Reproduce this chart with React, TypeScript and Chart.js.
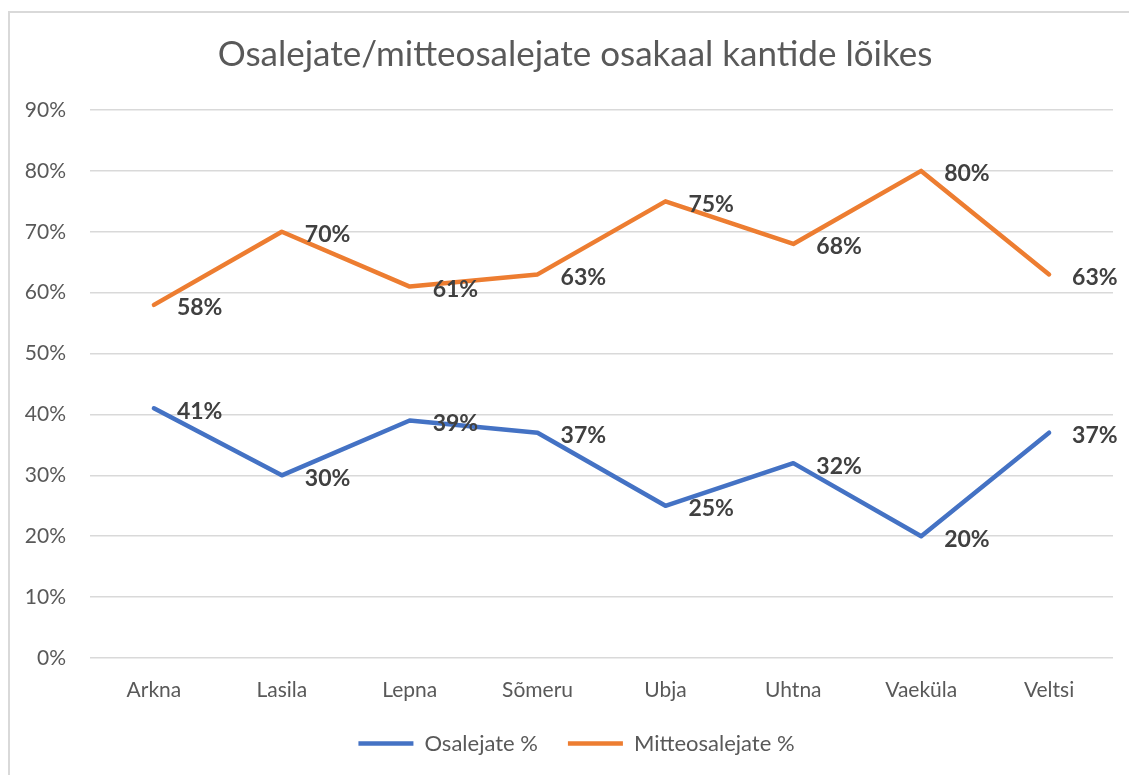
import React, { useEffect, useRef } from "react";
import { Chart, registerables } from "chart.js";

Chart.register(...registerables);

const title = "Osalejate/mitteosalejate osakaal kantide lõikes";
const categories = ["Arkna", "Lasila", "Lepna", "Sõmeru", "Ubja", "Uhtna", "Vaeküla", "Veltsi"];
const osalejate = [41, 30, 39, 37, 25, 32, 20, 37];
const mitteosalejate = [58, 70, 61, 63, 75, 68, 80, 63];
const seriesNames = ["Osalejate %", "Mitteosalejate %"];
const seriesColors = ["#4472C4", "#ED7D31"];
const yTicks = { min: 0, max: 90, step: 10 };

const FONT = "Lato, 'Open Sans', sans-serif";

const titlePlugin = {
  id: "customTitle",
  afterDraw(chart: any) {
    const ctx = chart.ctx;
    ctx.save();
    ctx.font = `normal 35px ${FONT}`;
    ctx.fillStyle = "#595959";
    ctx.textAlign = "center";
    ctx.textBaseline = "middle";
    ctx.fillText(title, 575, 55);
    ctx.restore();
  },
};

const legendShiftPlugin = {
  id: "legendShift",
  afterLayout(chart: any) {
    if (chart.legend) {
      chart.legend.left += 20;
      chart.legend.right += 20;
    }
  },
};

const dataLabelPlugin = {
  id: "dataLabels",
  afterDatasetsDraw(chart: any) {
    const ctx = chart.ctx;
    ctx.save();
    ctx.font = `bold 23px ${FONT}`;
    ctx.fillStyle = "#404040";
    ctx.textAlign = "left";
    ctx.textBaseline = "middle";
    chart.data.datasets.forEach((ds: any, i: number) => {
      const meta = chart.getDatasetMeta(i);
      meta.data.forEach((pt: any, j: number) => {
        ctx.fillText(`${ds.data[j]}%`, pt.x + 23, pt.y + 3);
      });
    });
    ctx.restore();
  },
};

export default function App() {
  const ref = useRef<HTMLCanvasElement | null>(null);
  useEffect(() => {
    if (!ref.current) return;
    const chart = new Chart(ref.current, {
      type: "line",
      data: {
        labels: categories,
        datasets: [
          {
            label: seriesNames[0],
            data: osalejate,
            borderColor: seriesColors[0],
            backgroundColor: seriesColors[0],
            borderWidth: 4.5,
            borderCapStyle: "round",
            borderJoinStyle: "round",
            pointRadius: 0,
            pointStyle: "line",
            tension: 0,
          },
          {
            label: seriesNames[1],
            data: mitteosalejate,
            borderColor: seriesColors[1],
            backgroundColor: seriesColors[1],
            borderWidth: 4.5,
            borderCapStyle: "round",
            borderJoinStyle: "round",
            pointRadius: 0,
            pointStyle: "line",
            tension: 0,
          },
        ],
      },
      options: {
        animation: false,
        responsive: false,
        maintainAspectRatio: false,
        layout: { padding: { left: 0, right: 16, top: 110, bottom: 12.5 } },
        plugins: {
          title: { display: false },
          legend: {
            display: true,
            position: "bottom",
            maxHeight: 60,
            labels: {
              usePointStyle: true,
              pointStyleWidth: 55,
              padding: 30,
              color: "#595959",
              font: { family: FONT, size: 22 },
            },
          },
          tooltip: { enabled: false },
        },
        scales: {
          x: {
            offset: true,
            grid: { display: false, drawTicks: false },
            border: { display: false },
            ticks: {
              color: "#595959",
              padding: 20,
              font: { family: FONT, size: 21 },
              maxRotation: 0,
            },
            afterFit: (s: any) => {
              s.height = 44.5;
            },
          },
          y: {
            min: yTicks.min,
            max: yTicks.max,
            grid: { color: "#d9d9d9", lineWidth: 1.5, drawTicks: false },
            border: { display: false },
            ticks: {
              stepSize: yTicks.step,
              color: "#595959",
              padding: 24,
              font: { family: FONT, size: 21 },
              callback: (v: any) => `${v}%`,
            },
            afterFit: (s: any) => {
              s.width = 90;
            },
          },
        },
      },
      plugins: [dataLabelPlugin, titlePlugin, legendShiftPlugin],
    } as any);
    return () => chart.destroy();
  }, []);

  return (
    <div style={{ position: "fixed", left: 0, top: 0, width: 1129, height: 775, overflow: "hidden", background: "#fff" }}>
      <div
        style={{
          position: "absolute",
          left: 8,
          top: 11,
          width: 1200,
          height: 900,
          borderLeft: "2px solid #d9d9d9",
          borderTop: "2px solid #d9d9d9",
        }}
      />
      <canvas ref={ref} width={1129} height={775} style={{ position: "absolute", left: 0, top: 0 }} />
    </div>
  );
}
